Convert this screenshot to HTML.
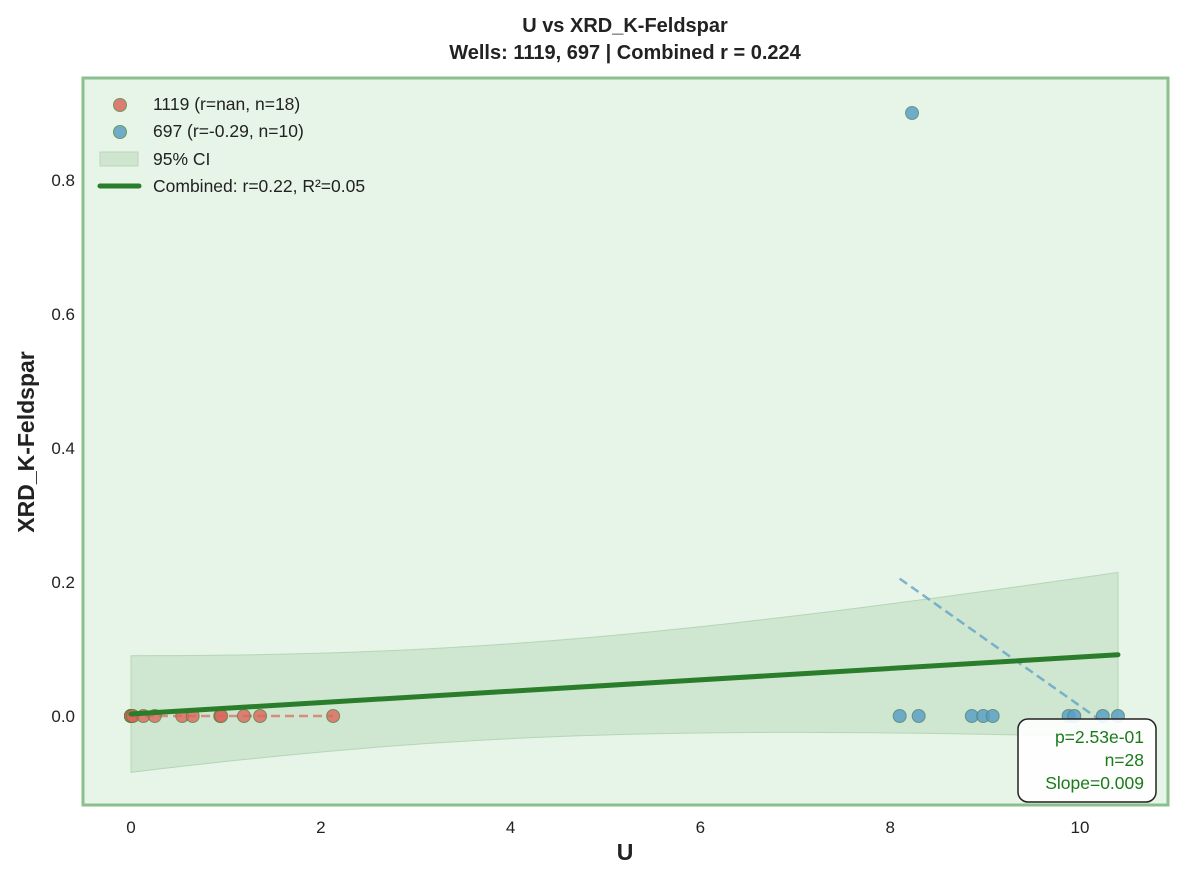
<!DOCTYPE html>
<html><head><meta charset="utf-8"><style>
body{margin:0;background:#fff;font-family:"Liberation Sans",sans-serif;}
svg text{font-family:"Liberation Sans",sans-serif;}
</style></head><body>
<svg id="chart" width="1182" height="880">
<rect x="83" y="78" width="1085" height="727" fill="#e7f4e8"/>
<g id="layer"></g>
<rect x="83" y="78" width="1085" height="727" fill="none" stroke="#8bbf8c" stroke-width="3"/>
<text x="625" y="32" text-anchor="middle" font-size="20" font-weight="bold" fill="#222">U vs XRD_K-Feldspar</text>
<text x="625" y="59" text-anchor="middle" font-size="20" font-weight="bold" fill="#222">Wells: 1119, 697 | Combined r = 0.224</text>
<text x="625" y="860" text-anchor="middle" font-size="23" font-weight="bold" fill="#222">U</text>
<text transform="translate(34,442) rotate(-90)" text-anchor="middle" font-size="23" font-weight="bold" fill="#222">XRD_K-Feldspar</text>
<g>
<circle cx="120" cy="105" r="6.5" fill="#d9665d" fill-opacity="0.85" stroke="#6a9a5a"/>
<text x="153" y="110" font-size="17.5" fill="#222">1119 (r=nan, n=18)</text>
<circle cx="120" cy="132" r="6.5" fill="#5a9fc4" fill-opacity="0.85" stroke="#6a9a5a"/>
<text x="153" y="137" font-size="17.5" fill="#222">697 (r=-0.29, n=10)</text>
<rect x="100" y="152" width="38" height="14" fill="#cfe5d0" stroke="#b9d9ba"/>
<text x="153" y="165" font-size="17.5" fill="#222">95% CI</text>
<line x1="100" y1="186" x2="139" y2="186" stroke="#2a7d2a" stroke-width="5" stroke-linecap="round"/>
<text x="153" y="192" font-size="17.5" fill="#222">Combined: r=0.22, R²=0.05</text>
</g>
<g>
<rect x="1018" y="719" width="138" height="83" rx="10" fill="#fff" fill-opacity="0.9" stroke="#222" stroke-width="1.5"/>
<text x="1144" y="743" text-anchor="end" font-size="17.5" fill="#1a7a1a">p=2.53e-01</text>
<text x="1144" y="766" text-anchor="end" font-size="17.5" fill="#1a7a1a">n=28</text>
<text x="1144" y="789" text-anchor="end" font-size="17.5" fill="#1a7a1a">Slope=0.009</text>
</g>
</svg>
<script>
const xTicks=[0,2,4,6,8,10];
const yTicks=[0.0,0.2,0.4,0.6,0.8];
const x1119=[0,0,0,0,0,0,0,0,0.02,0.13,0.25,0.54,0.65,0.94,0.95,1.19,1.36,2.13];
const y1119=[0,0,0,0,0,0,0,0,0,0,0,0,0,0,0,0,0,0];
const x697=[8.10,8.30,8.23,8.86,8.98,9.08,9.88,9.94,10.24,10.40];
const y697=[0,0,0.9,0,0,0,0,0,0,0];
const fit697=[[8.1,0.205],[10.2,-0.005]];
const fit1119=[[0,0],[2.13,0]];
const combinedFit=[0.003,0.0085];
const ciA=0.00496,ciB=0.000213,ciXm=3.5;
const X=v=>131+v*94.9, Y=v=>716-v*670;
const NS="http://www.w3.org/2000/svg";
const layer=document.getElementById('layer');
function mk(t,a){const e=document.createElementNS(NS,t);for(const k in a)e.setAttribute(k,a[k]);layer.appendChild(e);return e;}
const xs=[];for(let i=0;i<=40;i++)xs.push(10.4*i/40);
const fy=x=>combinedFit[0]+combinedFit[1]*x, hw=x=>Math.sqrt(ciA+ciB*(x-ciXm)**2);
let d=xs.map((x,i)=>(i?'L':'M')+X(x)+','+Y(fy(x)+hw(x))).join('')+xs.slice().reverse().map(x=>'L'+X(x)+','+Y(fy(x)-hw(x))).join('')+'Z';
let band=mk('path',{d:d,fill:'#c5dfc6','fill-opacity':0.7,stroke:'#b5d6b6'});


let l1=mk('line',{x1:X(fit1119[0][0]),y1:Y(fit1119[0][1]),x2:X(fit1119[1][0]),y2:Y(fit1119[1][1]),stroke:'#d9665d','stroke-opacity':0.7,'stroke-width':2.5,'stroke-dasharray':'9,5'});


let l2=mk('line',{x1:X(fit697[0][0]),y1:Y(fit697[0][1]),x2:X(fit697[1][0]),y2:Y(fit697[1][1]),stroke:'#5a9fc4','stroke-opacity':0.75,'stroke-width':2.5,'stroke-dasharray':'9,5'});


x1119.forEach((x,i)=>{const c=mk('circle',{cx:X(x),cy:Y(y1119[i]),r:6.5,fill:'#d9665d','fill-opacity':0.8,stroke:'#4f7f3a','stroke-opacity':0.7});

});
x697.forEach((x,i)=>{const c=mk('circle',{cx:X(x),cy:Y(y697[i]),r:6.5,fill:'#5a9fc4','fill-opacity':0.85,stroke:'#4f7f6a','stroke-opacity':0.7});

});
let cl=mk('line',{x1:X(0),y1:Y(fy(0)),x2:X(10.4),y2:Y(fy(10.4)),stroke:'#2a7d2a','stroke-width':5,'stroke-linecap':'round'});


const svg=document.getElementById('chart');
xTicks.forEach(t=>{const e=document.createElementNS(NS,'text');e.setAttribute('x',X(t));e.setAttribute('y',833);e.setAttribute('text-anchor','middle');e.setAttribute('font-size','17');e.setAttribute('fill','#222');e.textContent=t;


svg.appendChild(e);});
yTicks.forEach(t=>{const e=document.createElementNS(NS,'text');e.setAttribute('x',75);e.setAttribute('y',Y(t)+6);e.setAttribute('text-anchor','end');e.setAttribute('font-size','17');e.setAttribute('fill','#222');e.textContent=t.toFixed(1);


svg.appendChild(e);});
</script>
</body></html>
